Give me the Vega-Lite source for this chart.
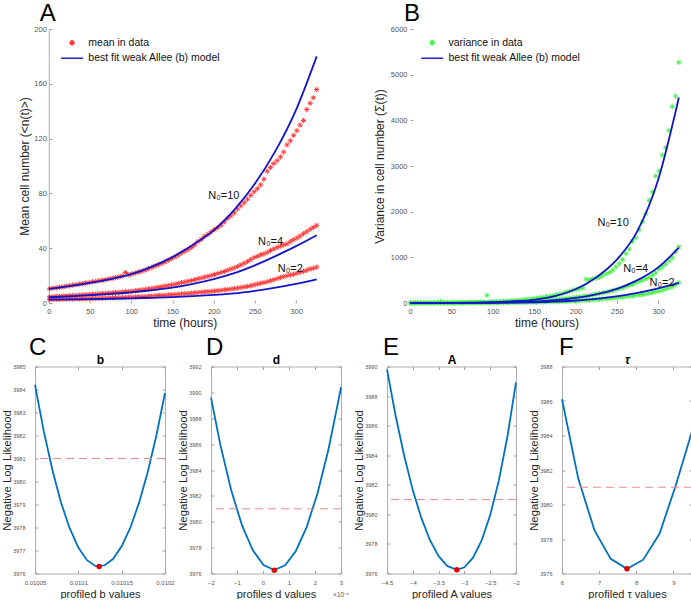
{
"$schema": "https://vega.github.io/schema/vega-lite/v6.json",
"padding": {"left": 1, "top": 2, "right": 0, "bottom": 0},
"config": {
  "view": {"stroke": null},
  "font": "Liberation Sans",
  "axis": {"grid": false, "labelFont": "Liberation Sans", "titleFont": "Liberation Sans", "labelColor": "#555555", "titleColor": "#262626", "titleFontWeight": "normal", "domainColor": "#999999", "tickColor": "#888888", "tickWidth": 0.8, "domainWidth": 0.8, "labelFlush": false, "labelOverlap": false},
  "title": {"font": "Liberation Sans", "fontSize": 24, "fontWeight": "normal", "anchor": "start", "frame": "group", "baseline": "alphabetic", "color": "#000000"},
  "legend": {"labelFont": "Liberation Sans"},
  "text": {"font": "Liberation Sans"}
},
"datasets": {
  "obs": [
    {"t":1,"m10":10.4,"m4":4.5,"m2":2.5,"v10":1,"v4":0,"v2":0},
    {"t":5,"m10":10.9,"m4":4.6,"m2":2.6,"v10":2,"v4":1,"v2":0},
    {"t":9,"m10":11.0,"m4":4.9,"m2":2.6,"v10":2,"v4":1,"v2":0},
    {"t":13,"m10":11.6,"m4":4.8,"m2":2.7,"v10":3,"v4":1,"v2":1},
    {"t":17,"m10":11.7,"m4":5.1,"m2":2.7,"v10":3,"v4":1,"v2":1},
    {"t":21,"m10":12.3,"m4":5.2,"m2":2.8,"v10":4,"v4":2,"v2":1},
    {"t":25,"m10":12.5,"m4":5.3,"m2":2.9,"v10":5,"v4":2,"v2":1},
    {"t":29,"m10":13.1,"m4":5.5,"m2":2.9,"v10":5,"v4":2,"v2":1},
    {"t":33,"m10":13.3,"m4":5.6,"m2":3.0,"v10":6,"v4":3,"v2":1},
    {"t":37,"m10":13.9,"m4":5.8,"m2":3.0,"v10":40,"v4":3,"v2":1},
    {"t":41,"m10":14.1,"m4":5.9,"m2":3.1,"v10":7,"v4":3,"v2":2},
    {"t":45,"m10":14.7,"m4":6.1,"m2":3.1,"v10":8,"v4":4,"v2":2},
    {"t":49,"m10":14.9,"m4":6.3,"m2":3.2,"v10":8,"v4":4,"v2":2},
    {"t":53,"m10":15.5,"m4":6.4,"m2":3.3,"v10":9,"v4":5,"v2":2},
    {"t":57,"m10":15.7,"m4":6.5,"m2":3.3,"v10":10,"v4":5,"v2":2},
    {"t":61,"m10":16.3,"m4":6.8,"m2":3.4,"v10":11,"v4":6,"v2":3},
    {"t":65,"m10":16.6,"m4":6.9,"m2":3.5,"v10":12,"v4":6,"v2":3},
    {"t":69,"m10":17.0,"m4":7.1,"m2":3.6,"v10":13,"v4":7,"v2":3},
    {"t":73,"m10":17.6,"m4":7.3,"m2":3.7,"v10":14,"v4":8,"v2":3},
    {"t":77,"m10":18.0,"m4":7.4,"m2":3.8,"v10":16,"v4":9,"v2":4},
    {"t":81,"m10":18.5,"m4":7.7,"m2":3.9,"v10":18,"v4":10,"v2":4},
    {"t":85,"m10":19.0,"m4":7.8,"m2":3.9,"v10":20,"v4":11,"v2":4},
    {"t":89,"m10":19.8,"m4":8.0,"m2":4.0,"v10":22,"v4":12,"v2":5},
    {"t":93,"m10":22.3,"m4":8.3,"m2":4.1,"v10":170,"v4":13,"v2":5},
    {"t":97,"m10":20.6,"m4":8.4,"m2":4.2,"v10":26,"v4":14,"v2":6},
    {"t":101,"m10":21.2,"m4":8.6,"m2":4.3,"v10":28,"v4":15,"v2":6},
    {"t":105,"m10":21.9,"m4":9.0,"m2":4.4,"v10":31,"v4":17,"v2":7},
    {"t":109,"m10":22.6,"m4":9.3,"m2":4.6,"v10":34,"v4":18,"v2":7},
    {"t":113,"m10":23.2,"m4":9.6,"m2":4.7,"v10":38,"v4":20,"v2":8},
    {"t":117,"m10":24.0,"m4":10.0,"m2":4.8,"v10":42,"v4":22,"v2":9},
    {"t":121,"m10":25.1,"m4":10.3,"m2":5.0,"v10":46,"v4":24,"v2":9},
    {"t":125,"m10":25.9,"m4":10.7,"m2":5.1,"v10":52,"v4":26,"v2":10},
    {"t":129,"m10":27.0,"m4":11.0,"m2":5.3,"v10":58,"v4":28,"v2":11},
    {"t":133,"m10":28.0,"m4":11.5,"m2":5.4,"v10":64,"v4":31,"v2":12},
    {"t":137,"m10":28.8,"m4":11.9,"m2":5.6,"v10":70,"v4":34,"v2":13},
    {"t":141,"m10":29.9,"m4":12.4,"m2":5.7,"v10":78,"v4":37,"v2":14},
    {"t":145,"m10":31.2,"m4":12.7,"m2":5.9,"v10":86,"v4":40,"v2":15},
    {"t":149,"m10":32.4,"m4":13.2,"m2":6.0,"v10":95,"v4":44,"v2":16},
    {"t":153,"m10":33.6,"m4":13.7,"m2":6.2,"v10":105,"v4":48,"v2":17},
    {"t":157,"m10":34.9,"m4":14.3,"m2":6.4,"v10":115,"v4":52,"v2":19},
    {"t":161,"m10":36.5,"m4":14.8,"m2":6.6,"v10":125,"v4":57,"v2":20},
    {"t":165,"m10":37.8,"m4":15.3,"m2":6.8,"v10":138,"v4":62,"v2":22},
    {"t":169,"m10":38.9,"m4":15.9,"m2":7.0,"v10":150,"v4":68,"v2":24},
    {"t":173,"m10":40.5,"m4":16.4,"m2":7.2,"v10":165,"v4":74,"v2":26},
    {"t":177,"m10":42.4,"m4":17.0,"m2":7.5,"v10":180,"v4":80,"v2":28},
    {"t":181,"m10":44.8,"m4":17.6,"m2":7.7,"v10":195,"v4":86,"v2":30},
    {"t":185,"m10":46.5,"m4":18.2,"m2":7.9,"v10":215,"v4":93,"v2":33},
    {"t":189,"m10":48.6,"m4":18.9,"m2":8.1,"v10":235,"v4":100,"v2":36},
    {"t":193,"m10":50.2,"m4":19.5,"m2":8.3,"v10":255,"v4":108,"v2":39},
    {"t":197,"m10":52.0,"m4":20.1,"m2":8.5,"v10":280,"v4":116,"v2":42},
    {"t":201,"m10":53.6,"m4":20.8,"m2":8.7,"v10":300,"v4":125,"v2":46},
    {"t":205,"m10":55.0,"m4":21.5,"m2":9.0,"v10":310,"v4":134,"v2":50},
    {"t":209,"m10":56.8,"m4":22.3,"m2":9.3,"v10":330,"v4":145,"v2":54},
    {"t":213,"m10":59.2,"m4":23.0,"m2":9.6,"v10":520,"v4":155,"v2":58},
    {"t":217,"m10":61.8,"m4":23.9,"m2":9.9,"v10":510,"v4":167,"v2":63},
    {"t":221,"m10":63.6,"m4":24.8,"m2":10.2,"v10":530,"v4":180,"v2":68},
    {"t":225,"m10":65.8,"m4":25.6,"m2":10.5,"v10":545,"v4":195,"v2":74},
    {"t":229,"m10":68.6,"m4":26.7,"m2":10.9,"v10":560,"v4":208,"v2":80},
    {"t":233,"m10":71.0,"m4":27.8,"m2":11.3,"v10":600,"v4":222,"v2":86},
    {"t":237,"m10":73.2,"m4":29.0,"m2":11.7,"v10":640,"v4":238,"v2":93},
    {"t":241,"m10":75.8,"m4":30.2,"m2":12.1,"v10":665,"v4":255,"v2":100},
    {"t":245,"m10":78.6,"m4":31.7,"m2":12.6,"v10":720,"v4":272,"v2":106},
    {"t":249,"m10":81.2,"m4":33.2,"m2":13.2,"v10":790,"v4":292,"v2":114},
    {"t":253,"m10":83.4,"m4":34.0,"m2":13.8,"v10":860,"v4":312,"v2":122},
    {"t":257,"m10":86.2,"m4":35.2,"m2":14.4,"v10":950,"v4":335,"v2":130},
    {"t":261,"m10":90.4,"m4":35.8,"m2":14.9,"v10":1080,"v4":360,"v2":138},
    {"t":265,"m10":96.2,"m4":37.0,"m2":15.5,"v10":1180,"v4":385,"v2":147},
    {"t":269,"m10":99.0,"m4":38.3,"m2":16.2,"v10":1350,"v4":410,"v2":156},
    {"t":273,"m10":101.8,"m4":39.4,"m2":17.0,"v10":1430,"v4":440,"v2":166},
    {"t":277,"m10":103.8,"m4":40.6,"m2":17.8,"v10":1600,"v4":470,"v2":176},
    {"t":281,"m10":106.6,"m4":41.5,"m2":18.6,"v10":1780,"v4":500,"v2":186},
    {"t":285,"m10":110.2,"m4":42.4,"m2":19.2,"v10":1950,"v4":530,"v2":198},
    {"t":289,"m10":115.4,"m4":43.1,"m2":19.9,"v10":2250,"v4":565,"v2":212},
    {"t":293,"m10":118.4,"m4":44.8,"m2":20.4,"v10":2430,"v4":610,"v2":228},
    {"t":297,"m10":122.4,"m4":46.2,"m2":21.0,"v10":2780,"v4":660,"v2":245},
    {"t":301,"m10":125.8,"m4":47.4,"m2":21.7,"v10":2890,"v4":740,"v2":262},
    {"t":305,"m10":129.8,"m4":48.9,"m2":22.5,"v10":3240,"v4":790,"v2":282},
    {"t":309,"m10":133.2,"m4":50.6,"m2":23.1,"v10":3400,"v4":850,"v2":305},
    {"t":313,"m10":141.2,"m4":52.0,"m2":23.9,"v10":3780,"v4":920,"v2":330},
    {"t":317,"m10":145.8,"m4":53.8,"m2":24.8,"v10":4300,"v4":990,"v2":360},
    {"t":321,"m10":149.8,"m4":55.2,"m2":25.4,"v10":4530,"v4":1120,"v2":400},
    {"t":325,"m10":155.8,"m4":56.6,"m2":26.2,"v10":5270,"v4":1230,"v2":450}
  ],
  "fit": [
    {"t":0,"f10":10.3,"f4":4.2,"f2":2.4,"g10":0,"g4":0,"g2":0},
    {"t":25,"f10":12.3,"f4":4.9,"f2":2.6,"g10":1,"g4":0,"g2":0},
    {"t":50,"f10":14.7,"f4":5.7,"f2":2.8,"g10":3,"g4":1,"g2":1},
    {"t":75,"f10":17.5,"f4":6.6,"f2":3.1,"g10":8,"g4":3,"g2":2},
    {"t":100,"f10":21.0,"f4":7.8,"f2":3.4,"g10":18,"g4":6,"g2":4},
    {"t":125,"f10":26.5,"f4":9.3,"f2":3.8,"g10":38,"g4":14,"g2":8},
    {"t":150,"f10":33.5,"f4":11.2,"f2":4.3,"g10":70,"g4":30,"g2":15},
    {"t":175,"f10":42.5,"f4":14.0,"f2":5.0,"g10":150,"g4":60,"g2":30},
    {"t":200,"f10":53.0,"f4":17.5,"f2":5.9,"g10":300,"g4":110,"g2":55},
    {"t":225,"f10":68.0,"f4":21.8,"f2":7.0,"g10":560,"g4":190,"g2":90},
    {"t":250,"f10":87.0,"f4":27.5,"f2":8.9,"g10":950,"g4":310,"g2":145},
    {"t":275,"f10":111.0,"f4":34.2,"f2":11.2,"g10":1580,"g4":500,"g2":220},
    {"t":300,"f10":141.0,"f4":41.5,"f2":13.9,"g10":2700,"g4":780,"g2":320},
    {"t":325,"f10":180.0,"f4":49.5,"f2":17.2,"g10":4500,"g4":1210,"g2":440}
  ],
  "labA": [
    {"t":212.4,"v":78.4,"label":"N₀=10"},
    {"t":269,"v":44.6,"label":"N₀=4"},
    {"t":293,"v":24.6,"label":"N₀=2"}
  ],
  "labB": [
    {"t":245.6,"v":1743,"label":"N₀=10"},
    {"t":272.8,"v":737,"label":"N₀=4"},
    {"t":304.6,"v":431,"label":"N₀=2"}
  ],
  "profC": [
    {"x":0.01005,"nll":3984.2},{"x":0.01006,"nll":3982.21},{"x":0.01007,"nll":3980.51},{"x":0.01008,"nll":3979.09},
    {"x":0.01009,"nll":3977.97},{"x":0.0101,"nll":3977.13},{"x":0.01011,"nll":3976.58},{"x":0.01012,"nll":3976.32},
    {"x":0.01013,"nll":3976.35},{"x":0.01014,"nll":3976.63},{"x":0.01015,"nll":3977.18},{"x":0.01016,"nll":3977.99},
    {"x":0.01017,"nll":3979.07},{"x":0.01018,"nll":3980.4},{"x":0.01019,"nll":3981.99},{"x":0.0102,"nll":3983.85}
  ],
  "profD": [
    {"x":-2,"nll":3989.59},{"x":-1.64,"nll":3985.94},{"x":-1.225,"nll":3982.45},{"x":-0.81,"nll":3979.74},
    {"x":-0.395,"nll":3977.81},{"x":0.02,"nll":3976.65},{"x":0.435,"nll":3976.26},{"x":0.85,"nll":3976.63},
    {"x":1.265,"nll":3977.74},{"x":1.68,"nll":3979.59},{"x":2.095,"nll":3982.19},{"x":2.51,"nll":3985.52},
    {"x":2.925,"nll":3989.6},{"x":3.0,"nll":3990.41}
  ],
  "profE": [
    {"x":-4.5,"nll":3989.81},{"x":-4.333,"nll":3986.67},{"x":-4.167,"nll":3983.96},{"x":-4.0,"nll":3981.64},
    {"x":-3.833,"nll":3979.74},{"x":-3.667,"nll":3978.25},{"x":-3.5,"nll":3977.17},{"x":-3.333,"nll":3976.51},
    {"x":-3.147,"nll":3976.25},{"x":-3.0,"nll":3976.42},{"x":-2.833,"nll":3977.07},{"x":-2.667,"nll":3978.22},
    {"x":-2.5,"nll":3979.95},{"x":-2.333,"nll":3982.28},{"x":-2.167,"nll":3985.25},{"x":-2.0,"nll":3988.93}
  ],
  "profF": [
    {"x":6,"nll":3986.1},{"x":6.4375,"nll":3981.5},{"x":6.875,"nll":3978.5},{"x":7.3125,"nll":3976.85},
    {"x":7.75,"nll":3976.27},{"x":8.1875,"nll":3976.8},{"x":8.625,"nll":3978.3},{"x":9.0625,"nll":3981.1},
    {"x":9.5,"nll":3984.25}
  ],
  "minC": [{"x":0.010124,"nll":3976.3}],
  "minD": [{"x":0.435,"nll":3976.26}],
  "minE": [{"x":-3.147,"nll":3976.25}],
  "minF": [{"x":7.75,"nll":3976.27}],
  "thr": [{"thr":3981.0}],
  "expD": [{"x":3,"nll":3976,"label":"×10⁻⁴"}]
},
"spacing": 6.5,
"resolve": {"scale": {"color": "independent", "shape": "independent"}, "legend": {"color": "independent", "shape": "independent"}},
"vconcat": [
  {
    "spacing": 51,
    "resolve": {"scale": {"color": "independent", "shape": "independent"}, "legend": {"color": "independent", "shape": "independent"}},
    "hconcat": [
      {
        "spacing": -21.2,
        "resolve": {"scale": {"color": "independent", "shape": "independent"}, "legend": {"color": "independent", "shape": "independent"}},
        "hconcat": [
          {"width": 1, "height": 1, "data": {"values": [{"t": 0}]}, "mark": {"type": "point", "opacity": 0}, "encoding": {}},
          {
            "width": 272, "height": 274,
            "title": {"text": "A", "dx": -9, "offset": -1},
            "layer": [
              {
                "data": {"name": "obs"},
                "transform": [{"fold": ["m10", "m4", "m2"], "as": ["series", "value"]}],
                "mark": {"type": "point", "filled": false, "strokeWidth": 1, "size": 28, "opacity": 0.9},
                "encoding": {
                  "x": {"field": "t", "type": "quantitative", "scale": {"domain": [0, 330], "nice": false},
                        "axis": {"title": "time (hours)", "values": [0,50,100,150,200,250,300], "format": "d", "titleFontSize": 12, "labelFontSize": 7.5, "tickSize": -3, "labelPadding": 7.3, "titlePadding": 2.5, "domain": false}},
                  "y": {"field": "value", "type": "quantitative", "scale": {"domain": [0, 200], "nice": false},
                        "axis": {"title": "Mean cell number (<n(t)>)", "values": [0,20,40,60,80,100,120,140,160,180,200], "format": "d", "titleFontSize": 12, "labelFontSize": 7.5, "tickSize": -3, "labelPadding": 5.5, "titlePadding": 2, "domain": true}},
                  "color": {"datum": "mean in data", "type": "nominal",
                            "scale": {"domain": ["mean in data", "best fit weak Allee (b) model"], "range": ["#ff2a2a", "#1414c8"]},
                            "legend": {"orient": "none", "legendX": 18, "legendY": 8.5, "title": null, "labelFontSize": 10.5, "labelColor": "#111111", "labelOffset": 11, "rowPadding": 3.5, "symbolSize": 30, "symbolStrokeWidth": 1.6, "padding": 0, "labelLimit": 300}},
                  "shape": {"datum": "mean in data", "type": "nominal",
                            "scale": {"domain": ["mean in data", "best fit weak Allee (b) model"], "range": ["M-1,0L1,0M0,-1L0,1M-0.7,-0.7L0.7,0.7M-0.7,0.7L0.7,-0.7", "M-4,0L4,0"]},
                            "legend": {"orient": "none", "legendX": 18, "legendY": 8.5, "title": null, "labelFontSize": 10.5, "labelColor": "#111111", "labelOffset": 11, "rowPadding": 3.5, "symbolSize": 30, "symbolStrokeWidth": 1.6, "padding": 0, "labelLimit": 300}}
                }
              },
              {
                "data": {"name": "fit"},
                "transform": [{"fold": ["f10", "f4", "f2"], "as": ["series", "value"]}],
                "mark": {"type": "line", "strokeWidth": 1.8, "interpolate": "monotone"},
                "encoding": {
                  "x": {"field": "t", "type": "quantitative"},
                  "y": {"field": "value", "type": "quantitative"},
                  "detail": {"field": "series"},
                  "color": {"datum": "best fit weak Allee (b) model", "type": "nominal"}
                }
              },
              {
                "data": {"name": "labA"},
                "mark": {"type": "text", "fontSize": 11, "color": "#111111"},
                "encoding": {
                  "x": {"field": "t", "type": "quantitative"},
                  "y": {"field": "v", "type": "quantitative"},
                  "text": {"field": "label"}
                }
              }
            ]
          }
        ]
      },
      {
        "width": 273, "height": 274,
        "title": {"text": "B", "dx": -6, "offset": -1},
        "layer": [
          {
            "data": {"name": "obs"},
            "transform": [{"fold": ["v10", "v4", "v2"], "as": ["series", "value"]}],
            "mark": {"type": "point", "filled": false, "strokeWidth": 1, "size": 28, "opacity": 0.9},
            "encoding": {
              "x": {"field": "t", "type": "quantitative", "scale": {"domain": [0, 330], "nice": false},
                    "axis": {"title": "time (hours)", "values": [0,50,100,150,200,250,300], "format": "d", "titleFontSize": 12, "labelFontSize": 7.5, "tickSize": -3, "labelPadding": 7.3, "titlePadding": 2.5, "domain": false}},
              "y": {"field": "value", "type": "quantitative", "scale": {"domain": [0, 6000], "nice": false},
                    "axis": {"title": "Variance in cell number (Σ(t))", "values": [0,1000,2000,3000,4000,5000,6000], "format": "d", "titleFontSize": 12, "labelFontSize": 7.5, "tickSize": -3, "labelPadding": 6, "titlePadding": 4, "domain": false}},
              "color": {"datum": "variance in data", "type": "nominal",
                        "scale": {"domain": ["variance in data", "best fit weak Allee (b) model"], "range": ["#3cf03c", "#1414c8"]},
                        "legend": {"orient": "none", "legendX": 17, "legendY": 8.5, "title": null, "labelFontSize": 10.5, "labelColor": "#111111", "labelOffset": 11, "rowPadding": 3.5, "symbolSize": 30, "symbolStrokeWidth": 1.6, "padding": 0, "labelLimit": 300}},
              "shape": {"datum": "variance in data", "type": "nominal",
                        "scale": {"domain": ["variance in data", "best fit weak Allee (b) model"], "range": ["M-1,0L1,0M0,-1L0,1M-0.7,-0.7L0.7,0.7M-0.7,0.7L0.7,-0.7", "M-4,0L4,0"]},
                        "legend": {"orient": "none", "legendX": 17, "legendY": 8.5, "title": null, "labelFontSize": 10.5, "labelColor": "#111111", "labelOffset": 11, "rowPadding": 3.5, "symbolSize": 30, "symbolStrokeWidth": 1.6, "padding": 0, "labelLimit": 300}}
            }
          },
          {
            "data": {"name": "fit"},
            "transform": [{"fold": ["g10", "g4", "g2"], "as": ["series", "value"]}],
            "mark": {"type": "line", "strokeWidth": 1.8, "interpolate": "monotone"},
            "encoding": {
              "x": {"field": "t", "type": "quantitative"},
              "y": {"field": "value", "type": "quantitative"},
              "detail": {"field": "series"},
              "color": {"datum": "best fit weak Allee (b) model", "type": "nominal"}
            }
          },
          {
            "data": {"name": "labB"},
            "mark": {"type": "text", "fontSize": 11, "color": "#111111"},
            "encoding": {
              "x": {"field": "t", "type": "quantitative"},
              "y": {"field": "v", "type": "quantitative"},
              "text": {"field": "label"}
            }
          }
        ]
      }
    ]
  },
  {
    "bounds": "flush",
    "spacing": 46,
    "hconcat": [
      {
        "width": 130, "height": 207,
        "title": {"text": "C", "dx": -6, "offset": -6},
        "layer": [
          {"data": {"name": "profC"}, "mark": {"type": "line", "color": "#0072BD", "strokeWidth": 1.8},
           "encoding": {
             "x": {"field": "x", "type": "quantitative", "scale": {"domain": [0.01005, 0.0102], "nice": false, "zero": false},
                   "axis": {"orient": "bottom", "values": [0.01005, 0.0101, 0.01015, 0.0102], "format": ".5~f", "title": "profiled b values", "labelFontSize": 6, "tickSize": -3, "labelPadding": 8.5, "titleFontSize": 11, "titlePadding": 3}},
             "y": {"field": "nll", "type": "quantitative", "scale": {"domain": [3976, 3985], "nice": false, "zero": false},
                   "axis": {"orient": "left", "values": [3976,3977,3978,3979,3980,3981,3982,3983,3984,3985], "format": "d", "title": "Negative Log Likelihood", "labelFontSize": 5.5, "tickSize": -3, "labelPadding": 13, "titleFontSize": 11.3, "titlePadding": 0}}}},
          {"data": {"name": "thr"}, "mark": {"type": "rule", "color": "#f08a8a", "strokeDash": [8, 5], "strokeWidth": 1},
           "encoding": {"y": {"field": "thr", "type": "quantitative", "axis": null}}},
          {"data": {"name": "minC"}, "mark": {"type": "point", "filled": true, "color": "#e00000", "size": 30, "opacity": 1},
           "encoding": {
             "x": {"field": "x", "type": "quantitative", "axis": {"orient": "top", "values": [0.01005, 0.0101, 0.01015, 0.0102], "labels": false, "tickSize": -3, "title": "b", "titleFontSize": 12, "titleFontWeight": "bold", "titleColor": "#000000", "titlePadding": 2.5, "titleBaseline": "alphabetic"}},
             "y": {"field": "nll", "type": "quantitative", "axis": {"orient": "right", "values": [3976,3977,3978,3979,3980,3981,3982,3983,3984,3985], "labels": false, "tickSize": -3, "title": null}}}}
        ],
        "resolve": {"axis": {"x": "independent", "y": "independent"}}
      },
      {
        "width": 130, "height": 207,
        "title": {"text": "D", "dx": -5, "offset": -6},
        "layer": [
          {"data": {"name": "profD"}, "mark": {"type": "line", "color": "#0072BD", "strokeWidth": 1.8},
           "encoding": {
             "x": {"field": "x", "type": "quantitative", "scale": {"domain": [-2, 3], "nice": false, "zero": false},
                   "axis": {"orient": "bottom", "values": [-2,-1,0,1,2,3], "format": "d", "title": "profiles d values", "labelFontSize": 6, "tickSize": -3, "labelPadding": 8.5, "titleFontSize": 11, "titlePadding": 3}},
             "y": {"field": "nll", "type": "quantitative", "scale": {"domain": [3976, 3992], "nice": false, "zero": false},
                   "axis": {"orient": "left", "values": [3976,3978,3980,3982,3984,3986,3988,3990,3992], "format": "d", "title": "Negative Log Likelihood", "labelFontSize": 5.5, "tickSize": -3, "labelPadding": 13, "titleFontSize": 11.3, "titlePadding": 0}}}},
          {"data": {"name": "thr"}, "mark": {"type": "rule", "color": "#f08a8a", "strokeDash": [8, 5], "strokeWidth": 1},
           "encoding": {"y": {"field": "thr", "type": "quantitative", "axis": null}}},
          {"data": {"name": "expD"}, "mark": {"type": "text", "fontSize": 6.5, "dy": 21, "color": "#555555"},
           "encoding": {"x": {"field": "x", "type": "quantitative", "axis": null}, "y": {"field": "nll", "type": "quantitative", "axis": null}, "text": {"field": "label"}}},
          {"data": {"name": "minD"}, "mark": {"type": "point", "filled": true, "color": "#e00000", "size": 30, "opacity": 1},
           "encoding": {
             "x": {"field": "x", "type": "quantitative", "axis": {"orient": "top", "values": [-2,-1,0,1,2,3], "labels": false, "tickSize": -3, "title": "d", "titleFontSize": 12, "titleFontWeight": "bold", "titleColor": "#000000", "titlePadding": 2.5, "titleBaseline": "alphabetic"}},
             "y": {"field": "nll", "type": "quantitative", "axis": {"orient": "right", "values": [3976,3978,3980,3982,3984,3986,3988,3990,3992], "labels": false, "tickSize": -3, "title": null}}}}
        ],
        "resolve": {"axis": {"x": "independent", "y": "independent"}}
      },
      {
        "width": 129, "height": 207,
        "title": {"text": "E", "dx": -4, "offset": -6},
        "layer": [
          {"data": {"name": "profE"}, "mark": {"type": "line", "color": "#0072BD", "strokeWidth": 1.8},
           "encoding": {
             "x": {"field": "x", "type": "quantitative", "scale": {"domain": [-4.5, -2], "nice": false, "zero": false},
                   "axis": {"orient": "bottom", "values": [-4.5,-4,-3.5,-3,-2.5,-2], "format": "~g", "title": "profiled A values", "labelFontSize": 6, "tickSize": -3, "labelPadding": 8.5, "titleFontSize": 11, "titlePadding": 3}},
             "y": {"field": "nll", "type": "quantitative", "scale": {"domain": [3976, 3990], "nice": false, "zero": false},
                   "axis": {"orient": "left", "values": [3976,3978,3980,3982,3984,3986,3988,3990], "format": "d", "title": "Negative Log Likelihood", "labelFontSize": 5.5, "tickSize": -3, "labelPadding": 13, "titleFontSize": 11.3, "titlePadding": 0}}}},
          {"data": {"name": "thr"}, "mark": {"type": "rule", "color": "#f08a8a", "strokeDash": [8, 5], "strokeWidth": 1},
           "encoding": {"y": {"field": "thr", "type": "quantitative", "axis": null}}},
          {"data": {"name": "minE"}, "mark": {"type": "point", "filled": true, "color": "#e00000", "size": 30, "opacity": 1},
           "encoding": {
             "x": {"field": "x", "type": "quantitative", "axis": {"orient": "top", "values": [-4.5,-4,-3.5,-3,-2.5,-2], "labels": false, "tickSize": -3, "title": "A", "titleFontSize": 12, "titleFontWeight": "bold", "titleColor": "#000000", "titlePadding": 2.5, "titleBaseline": "alphabetic"}},
             "y": {"field": "nll", "type": "quantitative", "axis": {"orient": "right", "values": [3976,3978,3980,3982,3984,3986,3988,3990], "labels": false, "tickSize": -3, "title": null}}}}
        ],
        "resolve": {"axis": {"x": "independent", "y": "independent"}}
      },
      {
        "width": 130, "height": 207,
        "title": {"text": "F", "dx": -3, "offset": -6},
        "layer": [
          {"data": {"name": "profF"}, "mark": {"type": "line", "color": "#0072BD", "strokeWidth": 1.8},
           "encoding": {
             "x": {"field": "x", "type": "quantitative", "scale": {"domain": [6, 9.5], "nice": false, "zero": false},
                   "axis": {"orient": "bottom", "values": [6,7,8,9], "format": "d", "title": "profiled τ values", "labelFontSize": 6, "tickSize": -3, "labelPadding": 8.5, "titleFontSize": 11, "titlePadding": 3}},
             "y": {"field": "nll", "type": "quantitative", "scale": {"domain": [3976, 3988], "nice": false, "zero": false},
                   "axis": {"orient": "left", "values": [3976,3978,3980,3982,3984,3986,3988], "format": "d", "title": "Negative Log Likelihood", "labelFontSize": 5.5, "tickSize": -3, "labelPadding": 13, "titleFontSize": 11.3, "titlePadding": 0}}}},
          {"data": {"name": "thr"}, "mark": {"type": "rule", "color": "#f08a8a", "strokeDash": [8, 5], "strokeWidth": 1},
           "encoding": {"y": {"field": "thr", "type": "quantitative", "axis": null}}},
          {"data": {"name": "minF"}, "mark": {"type": "point", "filled": true, "color": "#e00000", "size": 30, "opacity": 1},
           "encoding": {
             "x": {"field": "x", "type": "quantitative", "axis": {"orient": "top", "values": [6,7,8,9], "labels": false, "tickSize": -3, "title": "τ", "titleFontSize": 12, "titleFontWeight": "bold", "titleFontStyle": "italic", "titleColor": "#000000", "titlePadding": 2.5, "titleBaseline": "alphabetic"}},
             "y": {"field": "nll", "type": "quantitative", "axis": {"orient": "right", "values": [3976,3978,3980,3982,3984,3986,3988], "labels": false, "tickSize": -3, "title": null}}}}
        ],
        "resolve": {"axis": {"x": "independent", "y": "independent"}}
      }
    ]
  }
]
}
